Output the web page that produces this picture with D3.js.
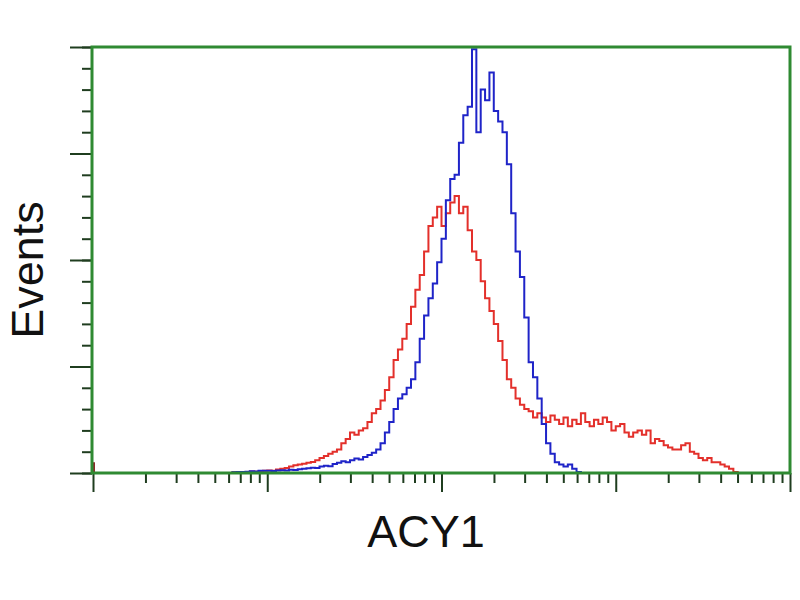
<!DOCTYPE html>
<html>
<head>
<meta charset="utf-8">
<script src="https://cdn.jsdelivr.net/npm/d3@7"></script>
<style>
  body { margin: 0; background: #fff; }
  svg { display: block; }
</style>
</head>
<body>
<div id="chart"></div>
<script>
// channel k sits at 10^(k / binsPerDecade)
var binsPerDecade = 40;
var startBin = 30;

// counts from channel 30 onwards
var blueCounts = [0, 0, 0.3, 0.5, 0.5, 0.6, 0.8, 0.7, 1, 1, 1.1, 0.9, 1.2, 1.3, 1.2, 1.5, 1.4, 1.8, 2, 2.2,
  2.5, 2.4, 3, 3.4, 3.2, 4.2, 4.8, 5.5, 5, 6, 6.8, 6.3, 7.5, 8.5, 9.5, 11, 14, 19, 24, 30,
  35, 37, 40, 44, 52, 63, 74, 82, 89, 99, 110, 128, 138, 140, 155, 168, 172, 199, 160, 180,
  175, 188, 170, 165, 160, 145, 122, 104, 92, 73, 52, 45, 35, 23, 14, 9, 5, 4, 3, 4,
  2, 0.5, 0];

var redCounts = [0, 0, 0.3, 0.4, 0.5, 0.5, 0.7, 0.6, 0.8, 1, 1.2, 1, 1.6, 2, 2.4, 3, 3.6, 4, 4.4, 4.8,
  5.2, 6, 7, 8, 9, 10, 11, 14, 16, 19, 18, 20, 21, 24, 28, 30, 34, 39, 45, 53,
  58, 63, 70, 78, 86, 93, 104, 116, 120, 125, 116, 122, 127, 130, 122, 125, 114, 104, 100, 90,
  82, 76, 70, 62, 53, 44, 40, 35, 32, 30, 29, 26, 28, 26, 24, 27, 25, 23, 26, 22,
  25, 23, 28, 24, 22, 25, 23, 26, 24, 20, 22, 23, 19, 17, 19, 20, 18, 20, 14, 16,
  15, 13, 12, 11, 11, 13, 14, 10, 9, 7, 6, 7, 5, 5, 4, 3, 2, 0.5, 0];

// events piled up in channel 0 (red, blue)
var pileUp = [5, 0];

var xTicksMajor = [1, 10, 100, 1000, 10000];

var width = 800,
  height = 600;

var svg = d3.select("#chart")
  .append("svg")
  .attr("width", width)
  .attr("height", height);

var x = d3.scaleLog().domain([1, 10000]).range([93, 790]);
var y = d3.scaleLinear().domain([0, 200]).range([473, 47]);

var tickColor = "#1f3d1f",
  frameColor = "#2f8a32";

// x minor ticks: 2..9 in each decade
var xMinor = [];
for (var d = 0; d < 4; d++) {
  for (var m = 2; m <= 9; m++) xMinor.push(m * Math.pow(10, d));
}

svg.append("g")
  .attr("transform", "translate(0,473)")
  .call(d3.axisBottom(x).tickValues(xMinor).tickSize(10).tickFormat(""))
  .call(g => g.select(".domain").remove())
  .selectAll("line").attr("stroke", tickColor).attr("stroke-width", 2);

svg.append("g")
  .attr("transform", "translate(0,473)")
  .call(d3.axisBottom(x).tickValues(xTicksMajor).tickSize(19).tickFormat(""))
  .call(g => g.select(".domain").remove())
  .selectAll("line").attr("stroke", tickColor).attr("stroke-width", 2);

svg.append("g")
  .attr("transform", "translate(92,0)")
  .call(d3.axisLeft(y).tickValues(d3.range(0, 201, 10)).tickSize(10).tickFormat(""))
  .call(g => g.select(".domain").remove())
  .selectAll("line").attr("stroke", tickColor).attr("stroke-width", 2);

svg.append("g")
  .attr("transform", "translate(92,0)")
  .call(d3.axisLeft(y).tickValues(d3.range(0, 201, 50)).tickSize(22).tickFormat(""))
  .call(g => g.select(".domain").remove())
  .selectAll("line").attr("stroke", tickColor).attr("stroke-width", 2);

function toPoints(counts) {
  return counts.map(function(c, i) {
    return [Math.pow(10, (startBin + i) / binsPerDecade), c];
  });
}

var line = d3.line()
  .x(function(d) { return x(d[0]); })
  .y(function(d) { return y(d[1]); })
  .curve(d3.curveStepAfter);

svg.append("path")
  .datum(toPoints(redCounts))
  .attr("d", line)
  .attr("fill", "none")
  .attr("stroke", "#e3302b")
  .attr("stroke-width", 2);

svg.append("path")
  .datum(toPoints(blueCounts))
  .attr("d", line)
  .attr("fill", "none")
  .attr("stroke", "#1f24c8")
  .attr("stroke-width", 2);

// channel 0 pile-up
svg.append("line")
  .attr("x1", x(1) + 1).attr("x2", x(1) + 1)
  .attr("y1", y(0)).attr("y2", y(pileUp[0]))
  .attr("stroke", "#8a2a2a")
  .attr("stroke-width", 2);

// frame
svg.append("rect")
  .attr("x", 92).attr("y", 47)
  .attr("width", 790 - 92).attr("height", 473 - 47)
  .attr("fill", "none")
  .attr("stroke", frameColor)
  .attr("stroke-width", 3);

svg.append("text")
  .attr("transform", "translate(43,270) rotate(-90)")
  .attr("text-anchor", "middle")
  .attr("font-family", "Liberation Sans, Arial, sans-serif")
  .attr("font-size", 45)
  .attr("fill", "#111")
  .text("Events");

svg.append("text")
  .attr("x", 426)
  .attr("y", 547)
  .attr("text-anchor", "middle")
  .attr("font-family", "Liberation Sans, Arial, sans-serif")
  .attr("font-size", 45)
  .attr("fill", "#111")
  .text("ACY1");
</script>
</body>
</html>
